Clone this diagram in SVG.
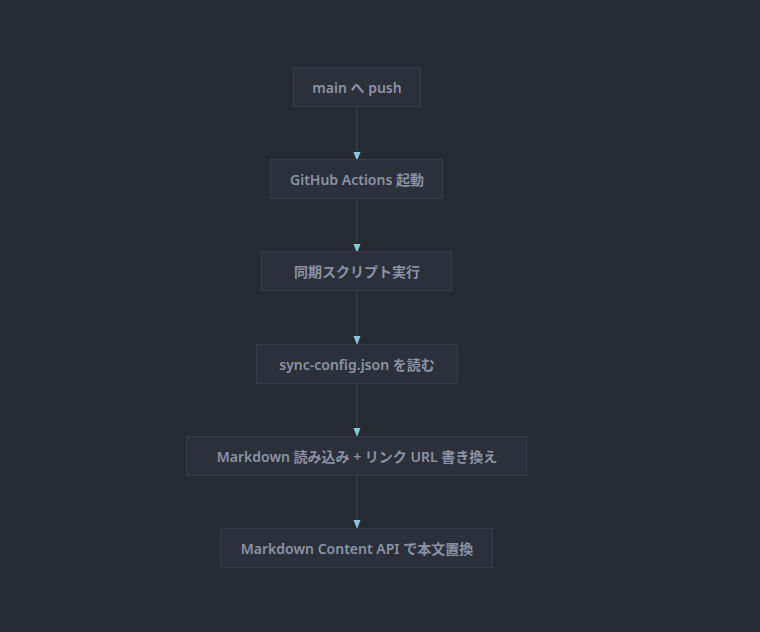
<svg xmlns="http://www.w3.org/2000/svg" width="760" height="632" viewBox="0 0 760 632">
<style>
.node rect{fill:#2b303a;stroke:#363c47;stroke-width:1}
.node text{font-family:"Noto Sans","Noto Sans CJK JP",sans-serif;font-size:14px;font-weight:600;fill:#8a93a6;text-anchor:middle;dominant-baseline:central}
.edge{stroke:#3c424d;stroke-width:1;fill:none}
.head{fill:#8cc8d6}
</style>
<rect width="760" height="632" fill="#262a33"/>
<g id="connectors">
<line class="edge" x1="357" y1="107" x2="357" y2="151"/>
<path class="head" d="M353.5,152 L360.5,152 L357,161 Z"/>
<line class="edge" x1="357" y1="199" x2="357" y2="243"/>
<path class="head" d="M353.5,244 L360.5,244 L357,253 Z"/>
<line class="edge" x1="357" y1="291" x2="357" y2="336"/>
<path class="head" d="M353.5,336 L360.5,336 L357,345 Z"/>
<line class="edge" x1="357" y1="384" x2="357" y2="428"/>
<path class="head" d="M353.5,428 L360.5,428 L357,437 Z"/>
<line class="edge" x1="357" y1="476" x2="357" y2="520"/>
<path class="head" d="M353.5,520 L360.5,520 L357,529 Z"/>
</g>
<g id="n1" class="node"><rect x="293.5" y="67.5" width="127" height="39"/><text x="357" y="87">main へ push</text></g>
<g id="n2" class="node"><rect x="270.5" y="159.5" width="172" height="39"/><text x="357" y="179">GitHub Actions 起動</text></g>
<g id="n3" class="node"><rect x="261.5" y="251.5" width="190" height="39"/><text x="357" y="271">同期スクリプト実行</text></g>
<g id="n4" class="node"><rect x="256.5" y="344.5" width="201" height="39"/><text x="357" y="364">sync-config.json を読む</text></g>
<g id="n5" class="node"><rect x="186.5" y="436.5" width="340" height="39"/><text x="357" y="456">Markdown 読み込み + リンク URL 書き換え</text></g>
<g id="n6" class="node"><rect x="220.5" y="528.5" width="272" height="39"/><text x="357" y="548">Markdown Content API で本文置換</text></g>
</svg>
